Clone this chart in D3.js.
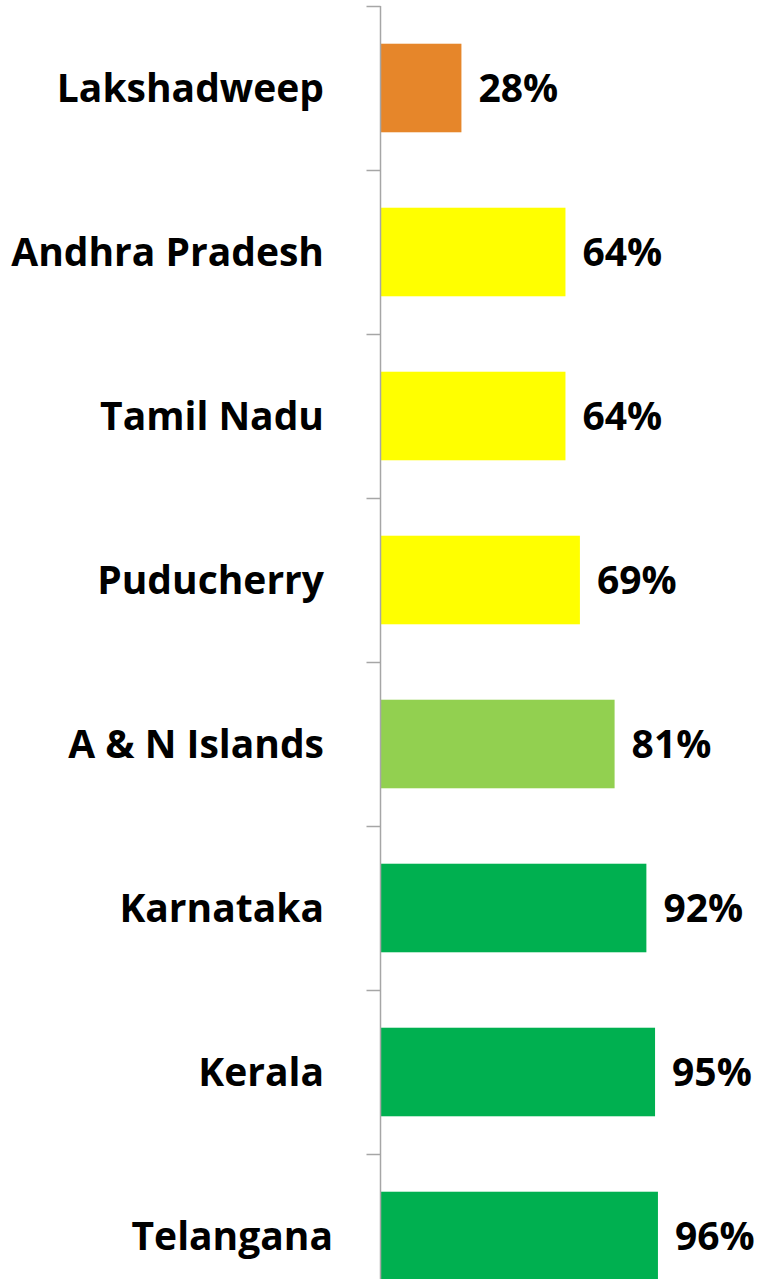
<!DOCTYPE html>
<html lang="en">
<head>
<meta charset="utf-8">
<title>States - coverage</title>
<script src="https://cdnjs.cloudflare.com/ajax/libs/d3/7.8.5/d3.min.js"></script>
<style>
body { margin: 0; background: #fff; }
svg { display: block; }
.label, .value {
  font-family: "Open Sans", "Noto Sans", sans-serif;
  font-weight: bold;
  fill: #000;
}
</style>
</head>
<body>
<div id="chart"></div>
<script>

var states = ["Lakshadweep", "Andhra Pradesh", "Tamil Nadu", "Puducherry",
              "A & N Islands", "Karnataka", "Kerala", "Telangana"];
var percents = [28, 64, 64, 69, 81, 92, 95, 96];
var colours = ["#E6862A", "#FFFF00", "#FFFF00", "#FFFF00",
               "#92D050", "#00B050", "#00B050", "#00B050"];

var width = 758, height = 1279;
var axisX = 380.5;

var svg = d3.select("#chart").append("svg")
    .attr("width", width)
    .attr("height", height);

var x = d3.scaleLinear()
    .domain([0, 100])
    .range([axisX, axisX + 289]);

// bands run past the bottom edge, the last one is cut off
var y = d3.scaleBand()
    .domain(states)
    .range([6, 6 + 164 * states.length])
    .paddingInner(0.46)
    .paddingOuter(0.23);

var rows = states.map(function(s, i) {
    return {state: s, value: percents[i], colour: colours[i]};
});

svg.selectAll(".bar")
    .data(rows)
    .enter().append("rect")
        .attr("class", "bar")
        .attr("x", x(0))
        .attr("y", function(d) { return y(d.state); })
        .attr("width", function(d) { return x(d.value) - x(0); })
        .attr("height", y.bandwidth())
        .attr("fill", function(d) { return d.colour; });

// category axis: ticks between bands, no labels
var step = y.step();
var tickYs = d3.range(states.length + 1).map(function(i) { return 6 + i * step; });

var axis = svg.append("g").attr("class", "axis");
axis.append("line")
    .attr("x1", axisX).attr("x2", axisX)
    .attr("y1", 6).attr("y2", height)
    .attr("stroke", "#A6A6A6")
    .attr("stroke-width", 1.5);
axis.selectAll(".tick")
    .data(tickYs)
    .enter().append("line")
        .attr("class", "tick")
        .attr("x1", axisX - 14).attr("x2", axisX)
        .attr("y1", function(d) { return d + 0.5; })
        .attr("y2", function(d) { return d + 0.5; })
        .attr("stroke", "#A6A6A6")
        .attr("stroke-width", 1.5);

var fontSize = 39;

svg.selectAll(".label")
    .data(rows)
    .enter().append("text")
        .attr("class", "label")
        // the last label sits a little further right in the original
        .attr("x", function(d, i) { return i == rows.length - 1 ? 333 : 324; })
        .attr("y", function(d) { return y(d.state) + y.bandwidth() / 2; })
        .attr("dy", "0.36em")
        .attr("text-anchor", "end")
        .style("font-size", fontSize + "px")
        .text(function(d) { return d.state; });

svg.selectAll(".value")
    .data(rows)
    .enter().append("text")
        .attr("class", "value")
        .attr("x", function(d) { return x(d.value) + 17; })
        .attr("y", function(d) { return y(d.state) + y.bandwidth() / 2; })
        .attr("dy", "0.36em")
        .style("font-size", fontSize + "px")
        .text(function(d) { return d.value + "%"; });

</script>
</body>
</html>
